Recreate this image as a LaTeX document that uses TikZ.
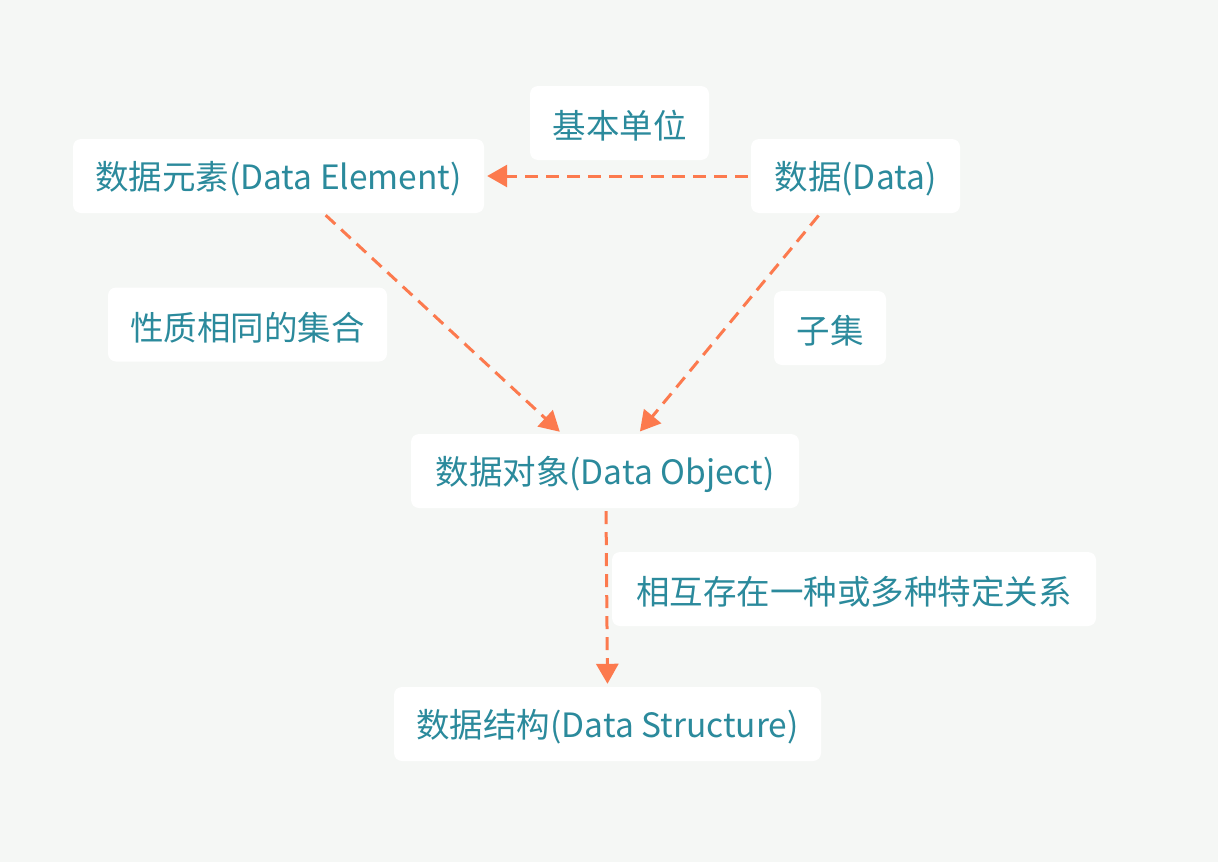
\documentclass[tikz,border=0pt]{standalone}
\usepackage{fontspec}
\newfontfamily\cjk{Noto Sans CJK SC}
\usetikzlibrary{arrows.meta}
\definecolor{bg}{HTML}{F5F7F5}
\definecolor{txt}{HTML}{2B8A9C}
\definecolor{arr}{HTML}{FC7A4E}
\tikzset{
  box/.style={fill=white, rounded corners=8pt, text=txt, font=\cjk\fontsize{33.5}{38}\selectfont, minimum height=74pt, inner sep=0pt, align=center},
  lbl/.style={text=txt, font=\cjk\fontsize{33.5}{38}\selectfont, inner sep=0pt},
  conn/.style={draw=arr, line width=3pt, dash pattern=on 13pt off 8pt, -{Triangle[length=20pt,width=22pt]}, shorten <=3pt, shorten >=3pt}
}
\newcommand{\bx}[5]{%
  \node[box, minimum width=#2] (#1) at (#3,#4) {};
  \node[lbl] (#1t) at (#3,#4+3) {#5};}
\begin{document}
\begin{tikzpicture}[x=1pt,y=-1pt]
\fill[bg] (0,0) rectangle (1218,862);
\useasboundingbox (0,0) rectangle (1218,862);
\bx{lbl1}{179pt}{619.5}{123}{基本单位}
\bx{elem}{411pt}{278.5}{176}{数据元素(Data Element)}
\bx{data}{209pt}{855.5}{176}{数据(Data)}
\bx{lbl2}{279pt}{247.5}{324.5}{性质相同的集合}
\bx{lbl3}{112pt}{830}{328}{子集}
\bx{obj}{388pt}{605}{471}{数据对象(Data Object)}
\bx{lbl4}{484pt}{854}{589}{相互存在一种或多种特定关系}
\bx{struct}{427pt}{607.5}{724}{数据结构(Data Structure)}
\draw[conn] (data.west) -- (elem.east);
\draw[conn] ([xshift=45pt]elem.south) -- ([xshift=-43pt]obj.north);
\draw[conn] ([xshift=-35pt]data.south) -- ([xshift=33pt]obj.north);
\draw[conn] ([xshift=1pt]obj.south) -- ([xshift=0pt]struct.north);
\end{tikzpicture}
\end{document}
